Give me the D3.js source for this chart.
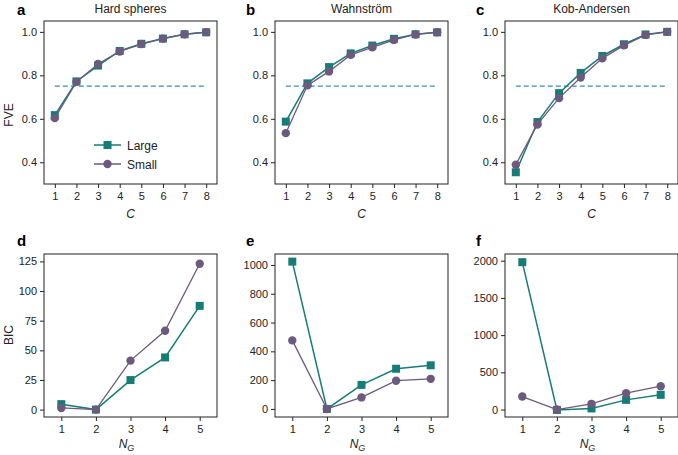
<!DOCTYPE html>
<html>
<head>
<meta charset="utf-8">
<script src="https://cdn.jsdelivr.net/npm/d3@7"></script>
<style>
  body { margin: 0; background: #fff; }
  svg { font-family: "Liberation Sans", Arial, sans-serif; }
  .tick text { font-size: 11px; fill: #222; }
  .tick line { stroke: #222; }
  .domain { display: none; }
  .title { font-size: 12px; fill: #222; }
  .letter { font-size: 15px; font-weight: bold; fill: #000; }
  .alabel { font-size: 12px; fill: #222; }
</style>
</head>
<body>
<svg id="chart" width="678" height="455"></svg>
<script>
var WIDTH = 678;
var HEIGHT = 455;
var TEAL = "#167d76";
var PURPLE = "#6b5a7e";
var DASH = "#3b8bb5";

// top row: fraction of variance explained vs C
var cValues = [1, 2, 3, 4, 5, 6, 7, 8];
var hsLarge = [0.617, 0.772, 0.845, 0.912, 0.945, 0.969, 0.989, 0.998];
var hsSmall = [0.603, 0.770, 0.852, 0.910, 0.944, 0.969, 0.989, 0.999];
var wLarge = [0.587, 0.763, 0.838, 0.901, 0.937, 0.968, 0.989, 0.998];
var wSmall = [0.534, 0.754, 0.818, 0.894, 0.929, 0.963, 0.988, 0.998];
var kaLarge = [0.354, 0.585, 0.718, 0.811, 0.889, 0.943, 0.988, 1.0];
var kaSmall = [0.389, 0.574, 0.695, 0.790, 0.878, 0.938, 0.986, 1.0];
var fveTicks = [0.4, 0.6, 0.8, 1.0];
var threshold = 0.75;

// bottom row: BIC vs N_G
var ngValues = [1, 2, 3, 4, 5];
var dLarge = [4.6, 0, 24.9, 44, 87.5];
var dSmall = [1.4, 0, 41.3, 66.5, 123];
var eLarge = [1023, 0, 167, 279, 303];
var eSmall = [476, 0, 80, 196, 209];
var fLarge = [1980, -5, 15, 130, 198];
var fSmall = [175, 0, 77, 220, 314];
var dTicks = [0, 25, 50, 75, 100, 125];
var eTicks = [0, 200, 400, 600, 800, 1000];
var fTicks = [0, 500, 1000, 1500, 2000];

var titles = ["Hard spheres", "Wahnström", "Kob-Andersen"];
var letters = ["a", "b", "c", "d", "e", "f"];

var svg = d3.select("#chart");

var colX = [44, 275, 505];
var panelW = 173;
var rowY = [21, 254];
var panelH = 163;

var panels = [
  {col: 0, row: 0, xs: cValues, large: hsLarge, small: hsSmall, yd: [0.3, 1.05], yt: fveTicks, fmt: d3.format(".1f"), xd: [0.5, 8.5]},
  {col: 1, row: 0, xs: cValues, large: wLarge, small: wSmall, yd: [0.3, 1.05], yt: fveTicks, fmt: d3.format(".1f"), xd: [0.5, 8.5]},
  {col: 2, row: 0, xs: cValues, large: kaLarge, small: kaSmall, yd: [0.3, 1.05], yt: fveTicks, fmt: d3.format(".1f"), xd: [0.5, 8.5]},
  {col: 0, row: 1, xs: ngValues, large: dLarge, small: dSmall, yd: [-6.25, 131.25], yt: dTicks, fmt: d3.format("d"), xd: [0.5, 5.5]},
  {col: 1, row: 1, xs: ngValues, large: eLarge, small: eSmall, yd: [-56, 1076], yt: eTicks, fmt: d3.format("d"), xd: [0.5, 5.5]},
  {col: 2, row: 1, xs: ngValues, large: fLarge, small: fSmall, yd: [-100, 2090], yt: fTicks, fmt: d3.format("d"), xd: [0.5, 5.5]}
];

panels.forEach(function(p, i) {
  var x0 = colX[p.col], y0 = rowY[p.row];
  var g = svg.append("g").attr("transform", "translate(" + x0 + "," + y0 + ")");

  var x = d3.scaleLinear().domain(p.xd).range([0, panelW]);
  var y = d3.scaleLinear().domain(p.yd).range([panelH, 0]);

  g.append("g")
    .attr("transform", "translate(0," + panelH + ")")
    .call(d3.axisBottom(x).tickValues(p.xs).tickSize(4).tickPadding(4).tickFormat(d3.format("d")));
  g.append("g")
    .call(d3.axisLeft(y).tickValues(p.yt).tickSize(4).tickPadding(3).tickFormat(p.fmt));

  // threshold line in FVE panels
  if (p.row == 0) {
    g.append("line")
      .attr("x1", x(1)).attr("x2", x(8))
      .attr("y1", y(threshold)).attr("y2", y(threshold))
      .attr("stroke", DASH).attr("stroke-width", 1.2)
      .attr("stroke-dasharray", "5,3");
  }

  var line = d3.line()
    .x(function(d, j) { return x(p.xs[j]); })
    .y(function(d) { return y(d); });

  g.append("path").datum(p.large)
    .attr("d", line).attr("fill", "none")
    .attr("stroke", TEAL).attr("stroke-width", 1.5);
  g.selectAll(".sq").data(p.large).enter().append("rect")
    .attr("x", function(d, j) { return x(p.xs[j]) - 4; })
    .attr("y", function(d) { return y(d) - 4; })
    .attr("width", 8).attr("height", 8)
    .attr("fill", TEAL);

  g.append("path").datum(p.small)
    .attr("d", line).attr("fill", "none")
    .attr("stroke", PURPLE).attr("stroke-width", 1.3);
  g.selectAll(".ci").data(p.small).enter().append("circle")
    .attr("cx", function(d, j) { return x(p.xs[j]); })
    .attr("cy", function(d) { return y(d); })
    .attr("r", 4.2)
    .attr("fill", PURPLE);

  // frame
  g.append("rect")
    .attr("width", panelW).attr("height", panelH)
    .attr("fill", "none").attr("stroke", "#222").attr("stroke-width", 1);

  if (p.row == 0) {
    g.append("text").attr("class", "title")
      .attr("x", panelW / 2).attr("y", -8)
      .attr("text-anchor", "middle").text(titles[p.col]);
    g.append("text").attr("class", "alabel")
      .attr("x", panelW / 2).attr("y", panelH + 34)
      .attr("text-anchor", "middle").attr("font-style", "italic").text("C");
  } else {
    var t = g.append("text").attr("class", "alabel")
      .attr("x", panelW / 2 - 4).attr("y", panelH + 31)
      .attr("text-anchor", "middle").attr("font-style", "italic");
    t.append("tspan").text("N");
    t.append("tspan").attr("font-size", "9px").attr("dy", 3).text("G");
  }

  svg.append("text").attr("class", "letter")
    .attr("x", x0 - 27 + (p.col > 0 ? -2 : 0)).attr("y", p.row == 0 ? 15 : y0 - 8)
    .text(letters[i]);
});

// y axis labels
svg.append("text").attr("class", "alabel")
  .attr("transform", "translate(13,115) rotate(-90)")
  .attr("text-anchor", "middle").text("FVE");
svg.append("text").attr("class", "alabel")
  .attr("transform", "translate(13,335) rotate(-90)")
  .attr("text-anchor", "middle").text("BIC");

// legend in panel a
var lg = svg.append("g").attr("transform", "translate(" + colX[0] + "," + rowY[0] + ")");
var legendItems = [{name: "Large", color: TEAL, shape: "square", y: 124}, {name: "Small", color: PURPLE, shape: "circle", y: 143}];
legendItems.forEach(function(it) {
  lg.append("line").attr("x1", 50).attr("x2", 77)
    .attr("y1", it.y).attr("y2", it.y)
    .attr("stroke", it.color).attr("stroke-width", 1.5);
  if (it.shape == "square") {
    lg.append("rect").attr("x", 59.5).attr("y", it.y - 4).attr("width", 8).attr("height", 8).attr("fill", it.color);
  } else {
    lg.append("circle").attr("cx", 63.5).attr("cy", it.y).attr("r", 4.2).attr("fill", it.color);
  }
  lg.append("text").attr("x", 83).attr("y", it.y + 4.5)
    .attr("font-size", "12px").attr("fill", "#222").text(it.name);
});
</script>
</body>
</html>
